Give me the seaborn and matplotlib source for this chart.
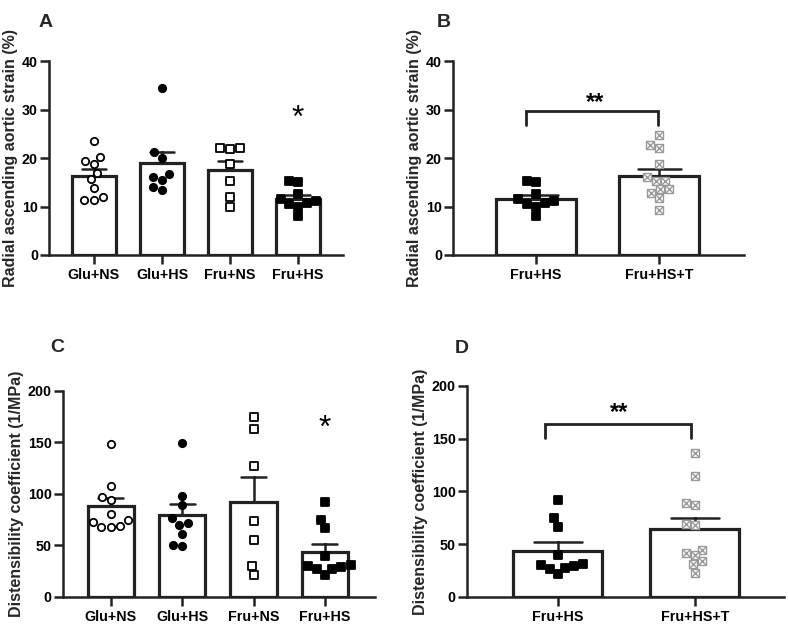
import numpy as np
import pandas as pd
import matplotlib
matplotlib.use("Agg")
import matplotlib.pyplot as plt
import seaborn as sns

sns.set_style("ticks")
plt.rcParams['font.family'] = ['Liberation Sans', 'DejaVu Sans']
plt.rcParams['font.weight'] = 'bold'

# groups
groups4 = ["Glu+NS", "Glu+HS", "Fru+NS", "Fru+HS"]
groups2 = ["Fru+HS", "Fru+HS+T"]

# radial ascending aortic strain (%)
strain_glu_ns = [23.6, 19.3, 20.3, 18.8, 17.0, 15.6, 13.8, 12.0, 11.3, 11.3]
strain_glu_hs = [34.5, 21.2, 20.1, 16.6, 16.0, 15.4, 14.0, 13.3]
strain_fru_ns = [22.1, 21.9, 22.1, 18.8, 15.3, 12.0, 10.0]
strain_fru_hs = [15.0, 15.2, 12.6, 11.1, 11.5, 10.6, 10.0, 10.8, 8.0]
strain_fru_hs_t = [24.8, 22.6, 22.0, 18.7, 16.0, 15.2, 15.2, 13.6, 13.6, 12.7, 11.8, 9.2]

# distensibility coefficient (1/MPa)
dc_glu_ns = [148.2, 107.5, 97.4, 94.2, 80.6, 74.8, 67.7, 72.5, 67.7, 69.2]
dc_glu_hs = [149.2, 98.4, 89.3, 76.4, 72.1, 69.9, 61.5, 50.8, 49.8]
dc_fru_ns = [175.1, 163.5, 127.3, 73.3, 54.9, 30.4, 21.6]
dc_fru_hs = [91.8, 74.4, 66.5, 40.2, 31.0, 30.1, 29.4, 27.5, 26.9, 21.5]
dc_fru_hs_t = [136.7, 114.6, 88.6, 87.0, 69.6, 68.0, 44.3, 41.8, 39.6, 33.9, 31.0, 22.8]

DARK = "#222222"
GRAY = "#9a9a9a"

# marker style per group: marker, face, edge
styles = {
    "Glu+NS": ("o", "white", "black"),
    "Glu+HS": ("o", "black", "black"),
    "Fru+NS": ("s", "white", "black"),
    "Fru+HS": ("s", "black", "black"),
    "Fru+HS+T": ("s", "white", GRAY),
}


def make_df(groups, values):
    rows = []
    for g, v in zip(groups, values):
        for val in v:
            rows.append((g, val))
    return pd.DataFrame(rows, columns=["group", "val"])


def panel(ax, groups, values, ylim, yticks, ylabel, xlim):
    df = make_df(groups, values)
    sns.barplot(data=df, x="group", y="val", order=groups, errorbar="se",
                capsize=0.35, width=0.65, color="white", edgecolor=DARK,
                linewidth=2.3, saturation=1, ax=ax,
                err_kws={"color": DARK, "linewidth": 1.8, "zorder": 0.5})
    for g in groups:
        sub = df[df["group"] == g]
        m, fc, ec = styles[g]
        lw = 1.0 if g == "Fru+HS+T" else 1.3
        sns.swarmplot(data=sub, x="group", y="val", order=groups, marker=m,
                      color=fc, edgecolor=ec, linewidth=lw, size=5.3, ax=ax,
                      zorder=3)
        if g == "Fru+HS+T":
            # x inside the square (same swarm layout: same size and line width)
            sns.swarmplot(data=sub, x="group", y="val", order=groups,
                          marker="x", color=GRAY, linewidth=lw, size=5.3,
                          ax=ax, zorder=4)
    ax.set_xlim(*xlim)
    ax.set_ylim(*ylim)
    ax.set_yticks(yticks)
    ax.set_xlabel("")
    ax.set_ylabel(ylabel, fontsize=11.5, fontweight="bold", labelpad=2.5)
    sns.despine(ax=ax)
    for s in ["left", "bottom"]:
        ax.spines[s].set_linewidth(1.8)
        ax.spines[s].set_color(DARK)
    ax.tick_params(width=1.8, length=6.5, color=DARK, labelsize=10.3,
                   labelcolor="black")
    ax.tick_params(axis="y", pad=1.5)
    ax.tick_params(axis="x", pad=3)
    for lab in ax.get_xticklabels() + ax.get_yticklabels():
        lab.set_fontweight("bold")


def bracket(ax, x0, x1, y_top, y_end):
    ax.plot([x0, x0, x1, x1], [y_end, y_top, y_top, y_end], color=DARK,
            linewidth=2.0, solid_joinstyle="miter", clip_on=False)


def stars(ax, x, y, s, size, weight, k):
    ax.annotate(s, xy=(x, y), xytext=(0, -k * size),
                textcoords="offset points", ha="center", va="baseline",
                fontsize=size, fontweight=weight, color="black")


fig = plt.figure(figsize=(7.88, 6.29), dpi=100)
axA = fig.add_axes([0.0622, 0.5946, 0.3731, 0.3084])
axB = fig.add_axes([0.5749, 0.5946, 0.3693, 0.3084])
axC = fig.add_axes([0.0799, 0.0509, 0.3959, 0.3275])
axD = fig.add_axes([0.5926, 0.0509, 0.4023, 0.3355])

panel(axA, groups4, [strain_glu_ns, strain_glu_hs, strain_fru_ns, strain_fru_hs],
      (0, 40), [0, 10, 20, 30, 40], "Radial ascending aortic strain (%)", (-0.66, 3.66))
panel(axB, groups2, [strain_fru_hs, strain_fru_hs_t],
      (0, 40), [0, 10, 20, 30, 40], "Radial ascending aortic strain (%)", (-0.675, 1.69))
panel(axC, groups4, [dc_glu_ns, dc_glu_hs, dc_fru_ns, dc_fru_hs],
      (0, 200), [0, 50, 100, 150, 200], "Distensibility coefficient (1/MPa)", (-0.67, 3.70))
panel(axD, groups2, [dc_fru_hs, dc_fru_hs_t],
      (0, 200), [0, 50, 100, 150, 200], "Distensibility coefficient (1/MPa)", (-0.66, 1.65))

stars(axA, 3, 28.9, "*", 23, "normal", 0.38)
stars(axC, 3, 167, "*", 23, "normal", 0.38)
bracket(axB, -0.08, 0.99, 29.7, 26.8)
stars(axB, 0.48, 32.1, "**", 17, "bold", 0.40)
bracket(axD, -0.09, 0.97, 163.6, 151)
stars(axD, 0.445, 177.2, "**", 17, "bold", 0.40)

for lab, x, y in [("A", 0.0577, 0.957), ("B", 0.5635, 0.957),
                  ("C", 0.073, 0.4404), ("D", 0.5857, 0.4388)]:
    fig.text(x, y, lab, fontsize=14, fontweight="bold", ha="center", va="baseline")

fig.savefig("out.png", dpi=100)
